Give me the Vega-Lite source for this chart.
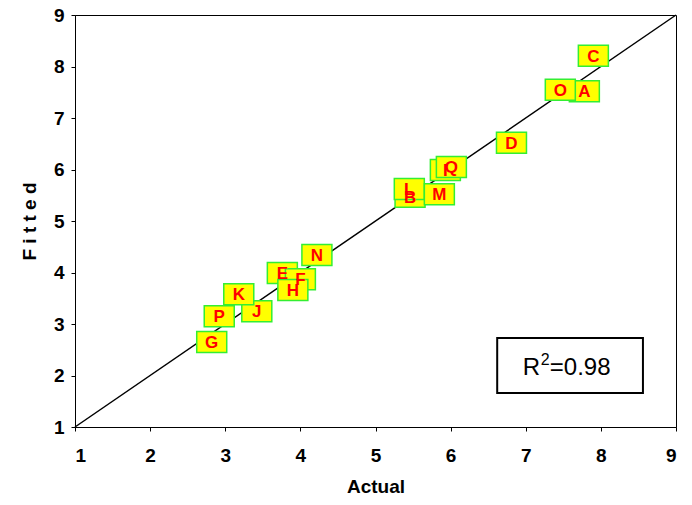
{
  "$schema": "https://vega.github.io/schema/vega-lite/v6.json",
  "width": 601,
  "height": 412,
  "autosize": {"type": "none"},
  "padding": {"left": 75, "top": 15, "right": 16, "bottom": 78},
  "background": "white",
  "config": {
    "view": {"stroke": "black", "strokeWidth": 1},
    "font": "Arial",
    "style": {"guide-label": {"fontWeight": "bold", "font": "Arial"}}
  },
  "datasets": {
    "pts": [
      {"label": "G", "actual": 2.82, "fitted": 2.65},
      {"label": "P", "actual": 2.92, "fitted": 3.15},
      {"label": "J", "actual": 3.42, "fitted": 3.25},
      {"label": "K", "actual": 3.18, "fitted": 3.58},
      {"label": "E", "actual": 3.76, "fitted": 3.99},
      {"label": "F", "actual": 4.0, "fitted": 3.87},
      {"label": "H", "actual": 3.9, "fitted": 3.66},
      {"label": "N", "actual": 4.22, "fitted": 4.34},
      {"label": "B", "actual": 5.46, "fitted": 5.47},
      {"label": "L", "actual": 5.45, "fitted": 5.62},
      {"label": "M", "actual": 5.85, "fitted": 5.52},
      {"label": "I", "actual": 5.93, "fitted": 5.99},
      {"label": "Q", "actual": 6.01, "fitted": 6.05},
      {"label": "D", "actual": 6.81, "fitted": 6.52},
      {"label": "A", "actual": 7.78, "fitted": 7.52},
      {"label": "O", "actual": 7.46, "fitted": 7.55},
      {"label": "C", "actual": 7.9, "fitted": 8.21}
    ],
    "diag": [
      {"actual": 1, "fitted": 1},
      {"actual": 9, "fitted": 9}
    ],
    "rbox": [
      {"x1": 6.62, "x2": 8.56, "y1": 1.66, "y2": 2.73}
    ],
    "rtext": [
      {"x": 6.96, "y": 2.01, "txt": "R"},
      {"x": 7.32, "y": 2.01, "txt": "=0.98"}
    ],
    "rsup": [
      {"x": 7.2, "y": 2.2, "txt": "2"}
    ]
  },
  "layer": [
    {
      "data": {"name": "diag"},
      "mark": {"type": "line", "color": "black", "strokeWidth": 1.5},
      "encoding": {
        "x": {"field": "actual", "type": "quantitative", "scale": {"domain": [1, 9], "nice": false},
              "axis": {"title": "Actual", "values": [1,2,3,4,5,6,7,8,9], "format": "d", "grid": false,
                       "domainColor": "black", "tickColor": "black", "tickSize": 4,
                       "labelColor": "black", "labelFont": "Arial", "labelFontSize": 19, "labelFontWeight": "bold", "labelPadding": 15,
                       "titleColor": "black", "titleFont": "Arial", "titleFontSize": 19, "titleFontWeight": "bold", "titlePadding": 12}},
        "y": {"field": "fitted", "type": "quantitative", "scale": {"domain": [1, 9], "nice": false},
              "axis": {"title": "F i t t e d", "values": [1,2,3,4,5,6,7,8,9], "format": "d", "grid": false,
                       "domainColor": "black", "tickColor": "black", "tickSize": 4,
                       "labelColor": "black", "labelFont": "Arial", "labelFontSize": 19, "labelFontWeight": "bold", "labelPadding": 7,
                       "titleColor": "black", "titleFont": "Arial", "titleFontSize": 19, "titleFontWeight": "bold", "titlePadding": 14}}
      }
    },
    {
      "data": {"name": "pts"},
      "mark": {"type": "point", "shape": "M-1,-0.7L1,-0.7L1,0.7L-1,0.7Z", "size": 900, "filled": true, "fill": "#FFFF00", "stroke": "#33EE33", "strokeWidth": 1.5, "opacity": 1},
      "encoding": {
        "x": {"field": "actual", "type": "quantitative"},
        "y": {"field": "fitted", "type": "quantitative"}
      }
    },
    {
      "data": {"name": "pts"},
      "mark": {"type": "text", "color": "#FF0000", "fontWeight": "bold", "fontSize": 17, "font": "Arial", "dy": 1},
      "encoding": {
        "x": {"field": "actual", "type": "quantitative"},
        "y": {"field": "fitted", "type": "quantitative"},
        "text": {"field": "label"}
      }
    },
    {
      "data": {"name": "rbox"},
      "mark": {"type": "rect", "fill": "white", "stroke": "black", "strokeWidth": 2},
      "encoding": {
        "x": {"field": "x1", "type": "quantitative"},
        "x2": {"field": "x2"},
        "y": {"field": "y1", "type": "quantitative"},
        "y2": {"field": "y2"}
      }
    },
    {
      "data": {"name": "rtext"},
      "mark": {"type": "text", "color": "black", "fontSize": 24, "font": "Arial", "align": "left", "baseline": "alphabetic"},
      "encoding": {
        "x": {"field": "x", "type": "quantitative"},
        "y": {"field": "y", "type": "quantitative"},
        "text": {"field": "txt"}
      }
    },
    {
      "data": {"name": "rsup"},
      "mark": {"type": "text", "color": "black", "fontSize": 16, "font": "Arial", "align": "left", "baseline": "alphabetic"},
      "encoding": {
        "x": {"field": "x", "type": "quantitative"},
        "y": {"field": "y", "type": "quantitative"},
        "text": {"field": "txt"}
      }
    }
  ]
}
